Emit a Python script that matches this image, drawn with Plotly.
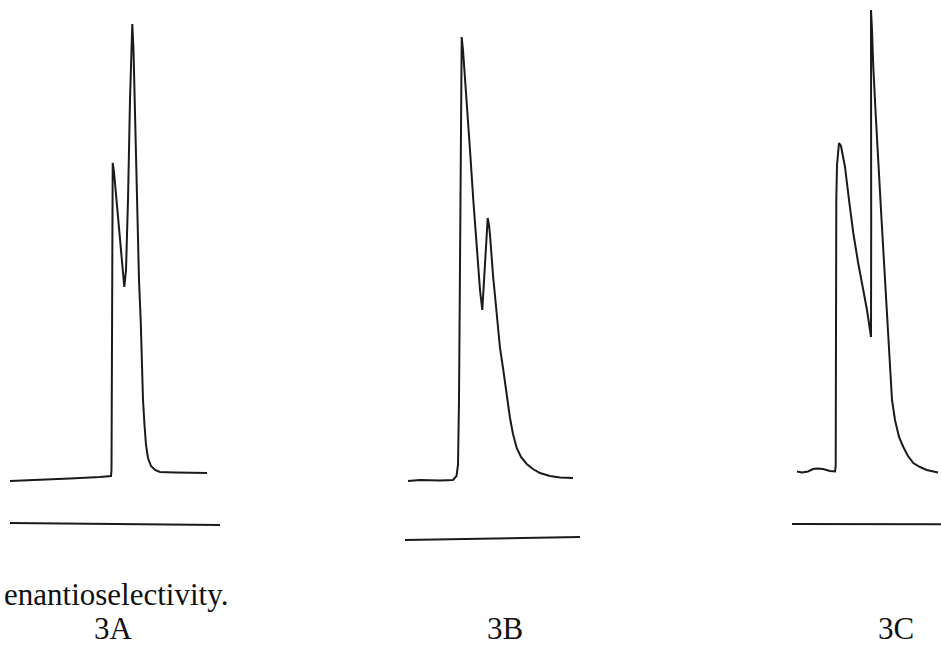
import plotly.graph_objects as go

# ---- Chromatogram 3A (time, detector signal) ----
time_a = [0, 3, 6, 9, 10.1, 10.15, 10.2, 10.27, 10.4, 10.8, 11.2, 11.43, 11.6, 11.8, 12.0,
          12.15, 12.23, 12.35, 12.5, 12.7, 12.9, 13.07, 13.2, 13.3, 13.45, 13.6, 13.8, 14.1,
          14.5, 15.0, 16.5, 18.0, 19.7]
signal_a = [8.6, 8.8, 9.1, 9.4, 9.6, 10.8, 44.8, 72.2, 70.4, 60.8, 51.2, 47.4, 50.8, 64.8, 84.8,
            95.8, 100.0, 94.8, 80.8, 62.8, 48.8, 40.8, 30.8, 24.8, 19.8, 15.8, 13.2, 11.6,
            10.8, 10.4, 10.3, 10.2, 10.2]
ref_time_a = [0, 21.0]
ref_signal_a = [0.2, -0.2]

# ---- Chromatogram 3B ----
time_b = [0.3, 1.5, 3.5, 4.8, 5.15, 5.3, 5.4, 5.5, 5.6, 5.67, 5.8, 6.17, 6.5, 6.83, 7.1, 7.33,
          7.5, 7.73, 7.9, 8.1, 8.27, 8.4, 8.5, 8.8, 9.17, 9.5, 9.83, 10.17, 10.5, 10.8, 11.17,
          11.6, 12.17, 12.8, 13.5, 14.5, 15.5, 16.8]
signal_b = [11.6, 11.8, 11.7, 11.8, 12.6, 14.8, 27.8, 57.8, 89.8, 100.4, 97.8, 87.8, 77.8, 67.8,
            59.8, 54.4, 49.8, 45.8, 51.8, 60.8, 64.2, 62.8, 60.8, 52.8, 44.2, 38.2, 33.8, 28.8,
            24.2, 21.0, 18.2, 16.4, 15.0, 14.0, 13.2, 12.6, 12.3, 12.2]
ref_time_b = [0, 17.5]
ref_signal_b = [-0.2, 0.4]

# ---- Chromatogram 3C ----
time_c = [0.5, 1.0, 1.6, 2.1, 2.5, 3.1, 3.8, 4.3, 4.37, 4.38, 4.4, 4.43, 4.5, 4.6, 4.7, 4.9,
          5.3, 5.7, 6.13, 6.6, 7.13, 7.5, 7.8, 7.9, 7.92, 7.91, 7.9, 8.0, 8.13, 8.4, 8.63, 8.9,
          9.13, 9.4, 9.73, 10.0, 10.3, 10.7, 11.13, 11.6, 12.13, 12.8, 13.47, 14.1, 14.6]
signal_c = [10.5, 10.3, 10.5, 11.0, 11.1, 11.0, 10.6, 10.5, 11.6, 24.8, 44.8, 64.8, 71.8, 74.8,
            76.2, 75.6, 71.4, 64.8, 58.2, 52.4, 46.8, 42.8, 38.8, 37.4, 60.0, 85.0, 102.8, 98.8,
            91.4, 80.8, 71.4, 62.8, 54.8, 44.8, 32.8, 24.8, 20.8, 17.4, 15.4, 13.6, 12.2, 11.4,
            10.8, 10.5, 10.3]
ref_time_c = [0, 15.0]
ref_signal_c = [0.0, -0.06]

panel_labels = ["3A", "3B", "3C"]
caption = "enantioselectivity."

# ---- layout geometry (pixels) ----
W, H = 941, 647
PX_PER_TIME = 10.0
PX_PER_SIGNAL = 5.0
panel_origin_x = [10, 405, 792]     # pixel x of time 0
panel_origin_y = [524, 539, 524]    # pixel y of signal 0
label_center_x = [113, 505, 896]

LINE = dict(color="#1a1a1a", width=2.0)

fig = go.Figure()
series = [(time_a, signal_a, ref_time_a, ref_signal_a),
          (time_b, signal_b, ref_time_b, ref_signal_b),
          (time_c, signal_c, ref_time_c, ref_signal_c)]

for i, (t, s, rt, rs) in enumerate(series):
    xa = "x" if i == 0 else f"x{i+1}"
    ya = "y" if i == 0 else f"y{i+1}"
    fig.add_trace(go.Scatter(x=t, y=s, mode="lines", line=LINE, xaxis=xa, yaxis=ya,
                             hoverinfo="skip", showlegend=False))
    fig.add_trace(go.Scatter(x=rt, y=rs, mode="lines", line=LINE, xaxis=xa, yaxis=ya,
                             hoverinfo="skip", showlegend=False))

axis_common = dict(visible=False, showgrid=False, zeroline=False, fixedrange=True)
layout_axes = {}
for i in range(3):
    x0, y0 = panel_origin_x[i], panel_origin_y[i]
    xr = [(0 - x0) / PX_PER_TIME, (W - x0) / PX_PER_TIME]
    yr = [(y0 - H) / PX_PER_SIGNAL, y0 / PX_PER_SIGNAL]
    xname = "xaxis" if i == 0 else f"xaxis{i+1}"
    yname = "yaxis" if i == 0 else f"yaxis{i+1}"
    xd = dict(axis_common, domain=[0, 1], range=xr, anchor="y" if i == 0 else f"y{i+1}")
    yd = dict(axis_common, domain=[0, 1], range=yr, anchor="x" if i == 0 else f"x{i+1}")
    if i > 0:
        xd["overlaying"] = "x"
        yd["overlaying"] = "y"
    layout_axes[xname] = xd
    layout_axes[yname] = yd

fig.update_layout(width=W, height=H, margin=dict(l=0, r=0, t=0, b=0),
                  paper_bgcolor="white", plot_bgcolor="white", **layout_axes)

FONT = dict(family="Liberation Serif, Times New Roman, serif", size=31, color="#111")
fig.add_annotation(text=caption, xref="paper", yref="paper", x=2 / W, y=1 - 594 / H,
                   xanchor="left", yanchor="middle", showarrow=False, font=FONT)
for lab, cx in zip(panel_labels, label_center_x):
    fig.add_annotation(text=lab, xref="paper", yref="paper", x=cx / W, y=1 - 628 / H,
                       xanchor="center", yanchor="middle", showarrow=False, font=FONT,
                       borderpad=0)

fig.write_html("out.html", config={"displayModeBar": False},
               post_script="document.body.style.margin='0px';document.body.style.padding='0px';")
